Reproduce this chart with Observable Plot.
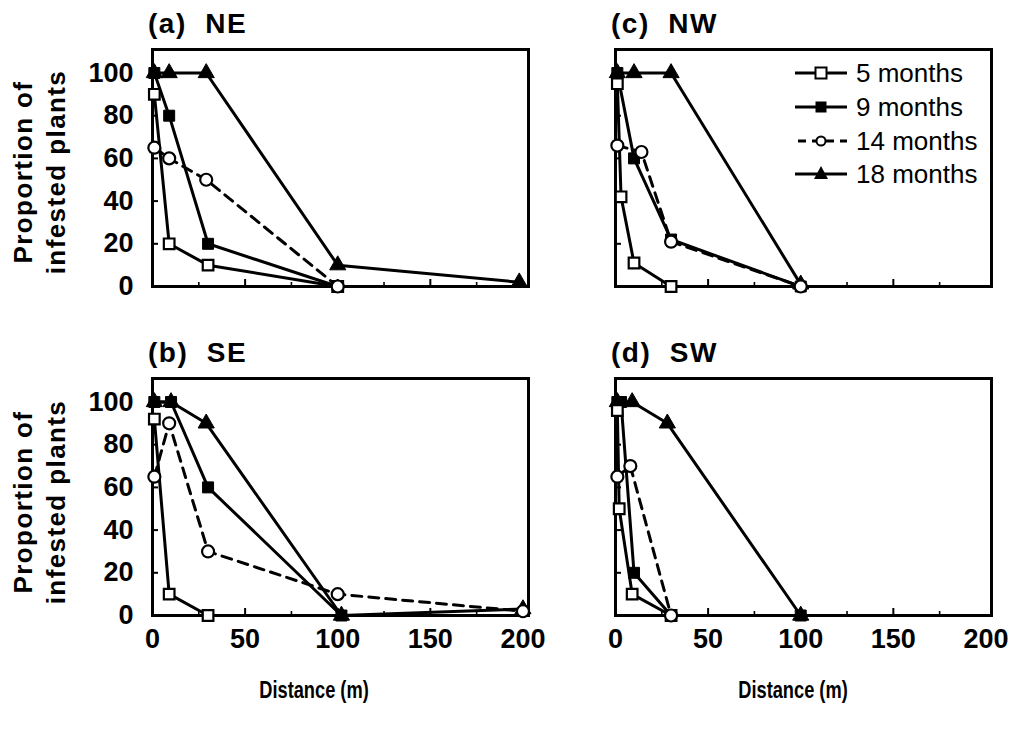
<!DOCTYPE html>
<html><head><meta charset="utf-8">
<script src="https://cdn.jsdelivr.net/npm/d3@7"></script>
<script src="https://cdn.jsdelivr.net/npm/@observablehq/plot@0.6"></script>
<style>
body{margin:0;background:#fff;width:1020px;height:732px;position:relative;overflow:hidden;font-family:"Liberation Sans",Arial,sans-serif;color:#000;}
.abs{position:absolute;}
.ptitle{position:absolute;font-weight:bold;font-size:28px;line-height:28px;white-space:pre;letter-spacing:1.5px;}
.ytitle{position:absolute;width:260px;height:66px;font-weight:bold;font-size:26px;line-height:33px;text-align:center;letter-spacing:1.4px;transform:rotate(-90deg);}
.xtitle{position:absolute;width:200px;text-align:center;font-weight:bold;font-size:24px;line-height:24px;transform:scaleX(0.76);}
.leg{position:absolute;display:flex;align-items:center;font-size:26px;line-height:26px;}
.leg svg{margin-right:9px;}
</style></head><body>
<script>
// ---- data (distance m, proportion %) ----
const months = ["5 months", "9 months", "14 months", "18 months"];
const xTicks = [0, 50, 100, 150, 200];
const xMinor = [25, 75, 125, 175];
const yTicks = [0, 20, 40, 60, 80, 100];
// (a) NE
const ne5  = [[1, 90], [9, 20], [30, 10], [100, 0]];
const ne9  = [[1, 100], [9, 80], [30, 20], [100, 0]];
const ne14 = [[1, 65], [9, 60], [29, 50], [100, 0]];
const ne18 = [[1, 100], [9, 100], [29, 100], [100, 10], [198, 2]];
// (b) SE
const se5  = [[1, 92], [9, 10], [30, 0]];
const se9  = [[1, 100], [10, 100], [30, 60], [102, 0]];
const se14 = [[1, 65], [9, 90], [30, 30], [100, 10], [200, 2]];
const se18 = [[1, 100], [10, 100], [29, 90], [102, 0], [200, 3]];
// (c) NW
const nw5  = [[1, 95], [3, 42], [10, 11], [30, 0]];
const nw9  = [[1, 100], [10, 60], [30, 22], [100, 0]];
const nw14 = [[1, 66], [14, 63], [30, 21], [100, 0]];
const nw18 = [[1, 100], [10, 100], [30, 100], [100, 1]];
// (d) SW
const sw5  = [[1, 96], [2, 50], [9, 10], [30, 0]];
const sw9  = [[1, 100], [3, 100], [10, 20], [30, 0], [100, 0]];
const sw14 = [[1, 65], [8, 70], [30, 0]];
const sw18 = [[1, 100], [9, 100], [28, 90], [100, 0]];

const panels = [
  {title: "(a)  NE", sets: [ne5, ne9, ne14, ne18], col: 0, row: 0},
  {title: "(c)  NW", sets: [nw5, nw9, nw14, nw18], col: 1, row: 0},
  {title: "(b)  SE", sets: [se5, se9, se14, se18], col: 0, row: 1},
  {title: "(d)  SW", sets: [sw5, sw9, sw14, sw18], col: 1, row: 1}
];

// ---- layout ----
const FW = 376, FH = 237;
const frameLeft = [152, 615];
const frameTop = [49, 378];
const FONT = '"Liberation Sans", Arial, sans-serif';

function rowsOf(sets) {
  const out = [];
  sets.forEach((s, i) => s.forEach(([d, v]) => out.push({series: months[i], d, v})));
  return out;
}

function makePanel(p) {
  const showY = p.col === 0, showX = p.row === 1;
  const mL = showY ? 80 : 20, mR = 10, mT = 10, mB = showX ? 50 : 14;
  const rows = rowsOf(p.sets);
  const bySeries = s => rows.filter(r => r.series === s);
  const marks = [
    Plot.tickY(yTicks.slice(1), {y: d => d, insetRight: FW - 6, stroke: "black", strokeWidth: 2}),
    Plot.tickX(xTicks.slice(1, -1), {x: d => d, insetTop: FH - 7, stroke: "black", strokeWidth: 2}),
    Plot.tickX(xMinor, {x: d => d, insetTop: FH - 4, stroke: "black", strokeWidth: 1.6}),
    Plot.frame({stroke: "black", strokeWidth: 3}),
    Plot.line(rows.filter(r => r.series !== "14 months"), {x: "d", y: "v", z: "series", stroke: "black", strokeWidth: 3}),
    Plot.line(bySeries("14 months"), {x: "d", y: "v", stroke: "black", strokeWidth: 3, strokeDasharray: "10,7"}),
    Plot.dot(bySeries("18 months"), {x: "d", y: "v", symbol: "triangle", r: 6, fill: "black", stroke: "black", strokeWidth: 1}),
    Plot.dot(bySeries("9 months"), {x: "d", y: "v", symbol: "square", r: 6.2, fill: "black", stroke: "black", strokeWidth: 1}),
    Plot.dot(bySeries("5 months"), {x: "d", y: "v", symbol: "square", r: 6, fill: "white", stroke: "black", strokeWidth: 2.2}),
    Plot.dot(bySeries("14 months"), {x: "d", y: "v", symbol: "circle", r: 6, fill: "white", stroke: "black", strokeWidth: 2.2})
  ];
  if (showY) marks.unshift(Plot.axisY(yTicks, {label: null, tickSize: 0, tickPadding: 19, fontSize: 27, fontWeight: "bold"}));
  if (showX) marks.unshift(Plot.axisX(xTicks, {label: null, tickSize: 0, tickPadding: 13, fontSize: 27, fontWeight: "bold"}));
  const chart = Plot.plot({
    width: mL + FW + mR, height: mT + FH + mB,
    marginLeft: mL, marginRight: mR, marginTop: mT, marginBottom: mB,
    x: {domain: [0, 203], axis: null},
    y: {domain: [0, 111], axis: null},
    style: {fontFamily: FONT, fontSize: "27px", fontWeight: "bold", color: "black", background: "none", overflow: "visible"},
    marks
  });
  const wrap = document.createElement("div");
  wrap.className = "abs";
  wrap.style.left = (frameLeft[p.col] - mL) + "px";
  wrap.style.top = (frameTop[p.row] - mT) + "px";
  wrap.appendChild(chart);
  document.body.appendChild(wrap);

  const t = document.createElement("div");
  t.className = "ptitle";
  t.textContent = p.title;
  t.style.left = (frameLeft[p.col] - 4) + "px";
  t.style.top = (frameTop[p.row] - 39) + "px";
  document.body.appendChild(t);
}
panels.forEach(makePanel);

// y titles
[172, 502].forEach(cy => {
  const d = document.createElement("div");
  d.className = "ytitle";
  d.innerHTML = "Proportion of<br>infested plants";
  d.style.left = (40 - 130) + "px";
  d.style.top = (cy - 33) + "px";
  document.body.appendChild(d);
});
// x titles
[314, 793].forEach(cx => {
  const d = document.createElement("div");
  d.className = "xtitle";
  d.textContent = "Distance (m)";
  d.style.left = (cx - 100) + "px";
  d.style.top = "678px";
  document.body.appendChild(d);
});

// legend (panel c)
const legY = [73, 107, 141, 174];
const legMarker = [
  '<rect x="20.5" y="7.5" width="11" height="11" fill="white" stroke="black" stroke-width="2"/>',
  '<rect x="20.5" y="7.5" width="11" height="11" fill="black"/>',
  '<circle cx="26" cy="13" r="4.5" fill="white" stroke="black" stroke-width="2"/>',
  '<path d="M26,5 L33,18 L19,18 Z" fill="black"/>'
];
months.forEach((m, i) => {
  const row = document.createElement("div");
  row.className = "leg";
  row.style.left = "795px";
  row.style.top = (legY[i] - 13) + "px";
  const dash = i === 2 ? ' stroke-dasharray="8,6" stroke-dashoffset="-3"' : '';
  row.innerHTML = `<svg width="52" height="26"><line x1="0" y1="13" x2="52" y2="13" stroke="black" stroke-width="2.8"${dash}/>${legMarker[i]}</svg><span>${m}</span>`;
  document.body.appendChild(row);
});
</script>
</body></html>
